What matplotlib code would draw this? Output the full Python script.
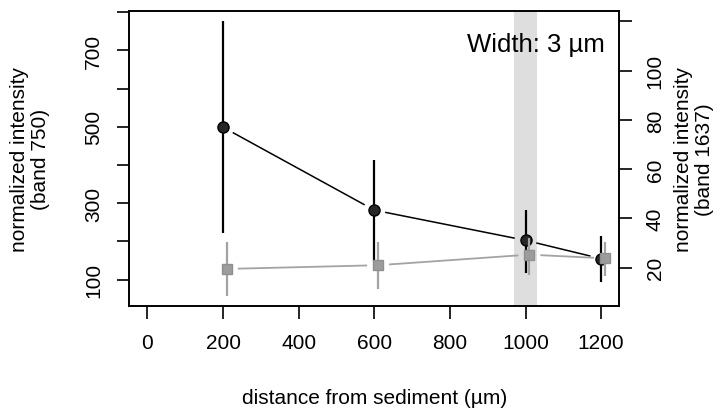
import numpy as np
import matplotlib
matplotlib.use("Agg")
import matplotlib.pyplot as plt

plt.rcParams['font.family'] = ['Liberation Sans', 'DejaVu Sans']

# band 750 (left axis, black circles)
black_x = [200, 600, 1000, 1200]
black_y = [499, 282, 203, 155]
black_lo = [221, 150, 118, 93]
black_hi = [778, 413, 283, 215]

# band 1637 (right axis, grey squares, shifted a bit to the right)
grey_x = [210, 610, 1010, 1210]
grey_y = [19.5, 21.0, 25.3, 23.8]
grey_lo = [8.6, 11.4, 17.0, 16.5]
grey_hi = [30.3, 30.3, 32.0, 30.3]

band_lo, band_hi = 970, 1030

x_ticks = [0, 200, 400, 600, 800, 1000, 1200]
left_ticks = [100, 200, 300, 400, 500, 600, 700, 800]
left_labels = ['100', '', '300', '', '500', '', '700', '']
right_ticks = [20, 40, 60, 80, 100, 120]
right_labels = ['20', '40', '60', '80', '100', '']

FS = 15
GAP = 11  # px gap around points, like R type="b"


def gapped_line(ax, xs, ys, gap, **kw):
	# draw segments between points, leaving a gap around each point
	pts = ax.transData.transform(np.column_stack([xs, ys]))
	inv = ax.transData.inverted()
	for p, q in zip(pts[:-1], pts[1:]):
		d = q - p
		L = np.hypot(d[0], d[1])
		if L <= 2 * gap:
			continue
		u = d / L
		seg = inv.transform(np.array([p + u * gap, q - u * gap]))
		ax.plot(seg[:, 0], seg[:, 1], solid_capstyle='butt', **kw)


fig = plt.figure(figsize=(7.22, 4.10), dpi=100)
ax = fig.add_axes([0.1791, 0.2505, 0.6787, 0.7210])
ax2 = ax.twinx()

ax.set_xlim(-48, 1248)
ax.set_ylim(30.4, 804)
ax2.set_ylim(4.33, 124.3)

ax.axvspan(band_lo, band_hi, color='#dedede', lw=0, zorder=0)

# black series
gapped_line(ax, black_x, black_y, GAP, color='black', lw=1.1, zorder=2)
ax.vlines(black_x, black_lo, black_hi, color='black', lw=1.6, zorder=3)
ax.plot(black_x, black_y, 'o', ms=8, mfc='#262626', mec='black', mew=1.0, zorder=4)

# grey series
gapped_line(ax2, grey_x, grey_y, GAP, color='#a3a3a3', lw=1.3, zorder=2)
ax2.vlines(grey_x, grey_lo, grey_hi, color='#a3a3a3', lw=1.6, zorder=3)
ax2.plot(grey_x, grey_y, 's', ms=7, mfc='#9c9c9c', mec='#8f8f8f', mew=1.0, zorder=4)

ax.text(0.971, 0.887, 'Width: 3 µm', transform=ax.transAxes, ha='right', va='center', fontsize=18.5)

# axes styling (R base graphics look)
for a in (ax, ax2):
	for s in a.spines.values():
		s.set_linewidth(1.2)
ax.set_xticks(x_ticks)
ax.set_xticklabels([str(t) for t in x_ticks], fontsize=FS)
ax.set_yticks(left_ticks)
ax.set_yticklabels(left_labels, fontsize=FS, rotation=90, va='center')
ax2.set_yticks(right_ticks)
ax2.set_yticklabels(right_labels, fontsize=FS, rotation=90, va='center')
ax.tick_params(axis='both', length=9, width=1.2, pad=10, direction='out')
ax2.tick_params(axis='y', length=9, width=1.2, pad=10, direction='out')

ax.set_xlabel('distance from sediment (µm)', fontsize=FS)
ax.xaxis.set_label_coords(0.5, -0.307)
ax.xaxis.label.set_va('center')

ax.set_ylabel('normalized intensity\n(band 750)', fontsize=FS, linespacing=1.1)
ax.yaxis.set_label_coords(-0.2027, 0.5)
ax.yaxis.label.set_va('center')

ax2.set_ylabel('normalized intensity\n(band 1637)', fontsize=FS, linespacing=1.1, rotation=90)
ax2.yaxis.set_label_coords(1.1525, 0.5)
ax2.yaxis.label.set_va('center')

fig.savefig('out.png', dpi=100)
